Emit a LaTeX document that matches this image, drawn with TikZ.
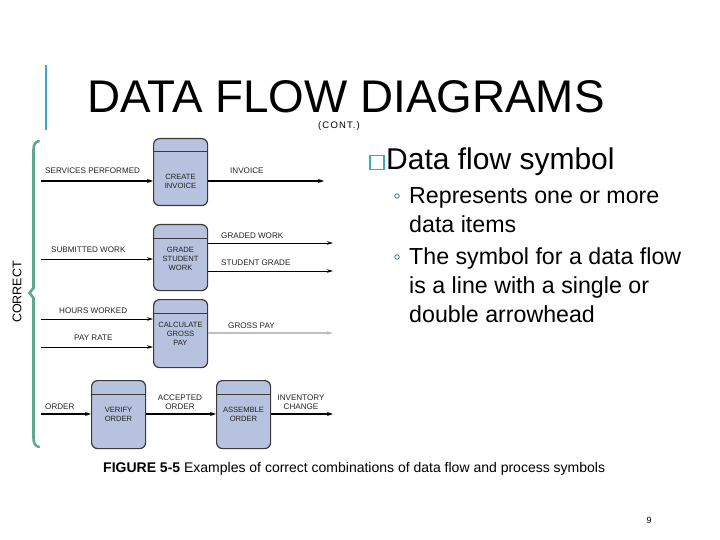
\documentclass[tikz,border=0pt]{standalone}
\usepackage{fontspec}
\setmainfont{Liberation Sans}
\usetikzlibrary{arrows.meta,calc}
\definecolor{accent}{HTML}{3FA7C6}
\definecolor{bracecol}{HTML}{5FA88F}
\definecolor{boxfill}{HTML}{B6C2DE}
\definecolor{boxline}{HTML}{3A3A3A}
\definecolor{labcol}{HTML}{222222}
\tikzset{
  proc/.style={draw=boxline, line width=1.2pt, fill=boxfill, rounded corners=6pt,
    minimum width=54pt, minimum height=67pt, inner sep=0pt},
  ptext/.style={font=\fontsize{7.6}{9}\selectfont, text=labcol, align=center, inner sep=0pt},
  flab/.style={font=\fontsize{8.1}{9}\selectfont, text=labcol, align=center, inner sep=0pt},
  thin flow/.style={line width=0.9pt, -{Stealth[length=6pt,width=3.5pt]}},
  thick flow/.style={line width=1.7pt, -{Stealth[length=6pt,width=4pt]}},
  bul/.style={font=\fontsize{23.2}{29}\selectfont, align=left, anchor=base west, inner sep=0pt},
}
\begin{document}
\begin{tikzpicture}[x=1pt,y=-1pt]
\useasboundingbox (0,0) rectangle (720,540);
\fill[white] (0,0) rectangle (720,540);
% accent bar
\draw[accent, line width=2.6pt] (46,65) -- (46,130);
% title
\node[anchor=base west, inner sep=0pt, text depth=0pt, font=\fontsize{45.8}{50}\selectfont] (title) at (87,113) {DATA FLOW DIAGRAMS};
\node[anchor=base west, inner sep=0pt, font=\fontsize{9.5}{10}\selectfont\addfontfeature{LetterSpace=12}] (cont) at (318,128.5) {(CONT.)};
% brace
\draw[bracecol, line width=2.6pt, line cap=round]
  (39,141) .. controls (35,142) and (33.5,145) .. (33.5,150) -- (33.5,288)
  -- (29.5,293) -- (33.5,298) -- (33.5,438)
  .. controls (33.5,443) and (35,446) .. (39,447);
\node[rotate=90, inner sep=0pt, font=\fontsize{12.5}{13}\selectfont] (correct) at (17,292) {CORRECT};
% process boxes
\node[proc, anchor=north west] (ci) at (153,138) {};
\node[proc, anchor=north west, minimum height=66pt] (gs) at (153,224) {};
\node[proc, anchor=north west, minimum height=68pt] (cg) at (153,299) {};
\node[proc, anchor=north west, minimum height=68pt] (vo) at (91,380) {};
\node[proc, anchor=north west, minimum height=68pt] (ao) at (216,380) {};
\foreach \b in {ci,gs,cg,vo,ao}{
  \draw[boxline, line width=1pt] ($(\b.north west)+(0,14)$) -- ($(\b.north east)+(0,14)$);
}
\node[ptext] (cit) at (180.5,181) {CREATE\\INVOICE};
\node[ptext] (gst) at (180.5,258.5) {GRADE\\STUDENT\\WORK};
\node[ptext] (cgt) at (180.5,333.5) {CALCULATE\\GROSS\\PAY};
\node[ptext] (vot) at (118.5,414) {VERIFY\\ORDER};
\node[ptext] (aot) at (243.5,414) {ASSEMBLE\\ORDER};
% free ends
\coordinate (s1) at (41,181);
\coordinate (e1) at (324,181);
\coordinate (s2) at (41,259);
\coordinate (e2a) at (333,243);
\coordinate (e2b) at (333,271);
\coordinate (s3a) at (41,319);
\coordinate (s3b) at (41,347);
\coordinate (e3) at (333,333);
\coordinate (s4) at (41,414);
\coordinate (e4) at (333,414);
% flows
\draw[thick flow] (s1) -- (s1 -| ci.west);
\draw[thick flow] (e1 -| ci.east) -- (e1);
\draw[thin flow] (s2) -- (s2 -| gs.west);
\draw[thin flow] (e2a -| gs.east) -- (e2a);
\draw[thin flow] (e2b -| gs.east) -- (e2b);
\draw[thin flow] (s3a) -- (s3a -| cg.west);
\draw[thin flow] (s3b) -- (s3b -| cg.west);
\draw[thin flow, draw=black!25, line width=1.6pt] (e3 -| cg.east) -- (e3);
\draw[thick flow] (s4) -- (s4 -| vo.west);
\draw[thick flow] (vo.east |- s4) -- (ao.west |- s4);
\draw[thick flow] (ao.east |- e4) -- (e4);
% flow labels
\node[flab, anchor=west] (l1) at (45,171) {SERVICES PERFORMED};
\node[flab, anchor=west] (l2) at (230,171) {INVOICE};
\node[flab, anchor=west] (l3) at (51,250) {SUBMITTED WORK};
\node[flab, anchor=west] (l4) at (221,236) {GRADED WORK};
\node[flab, anchor=west] (l5) at (221,263) {STUDENT GRADE};
\node[flab, anchor=west] (l6) at (59,311) {HOURS WORKED};
\node[flab, anchor=west] (l7) at (74,338) {PAY RATE};
\node[flab, anchor=west] (l8) at (228,326) {GROSS PAY};
\node[flab, anchor=west] (l9) at (45,407) {ORDER};
\node[flab] (l10) at (180,402.5) {ACCEPTED\\ORDER};
\node[flab] (l11) at (301,402.5) {INVENTORY\\CHANGE};
% right text
\node[draw=accent, line width=1.5pt, minimum size=14pt, inner sep=0pt, anchor=south west] (sq) at (369,170.5) {};
\node[anchor=base west, inner sep=0pt, font=\fontsize{30}{32}\selectfont] (head) at (386,169.5) {Data flow symbol};
\node[circle, draw=accent!70!black, line width=0.8pt, minimum size=4.5pt, inner sep=0pt] (b1) at (397,196) {};
\node[circle, draw=accent!70!black, line width=0.8pt, minimum size=4.5pt, inner sep=0pt] (b2) at (397,257) {};
\node[bul] (t1) at (409,233) {Represents one or more\\data items};
\node[bul] (t2) at (409,322) {The symbol for a data flow\\is a line with a single or\\double arrowhead};
% caption
\node[anchor=base west, inner sep=0pt, font=\fontsize{14}{16}\selectfont] (cap) at (103,472) {\textbf{FIGURE 5-5} Examples of correct combinations of data flow and process symbols};
\node[inner sep=0pt, font=\fontsize{9}{10}\selectfont] (pg) at (649,520) {9};
\end{tikzpicture}
\end{document}
